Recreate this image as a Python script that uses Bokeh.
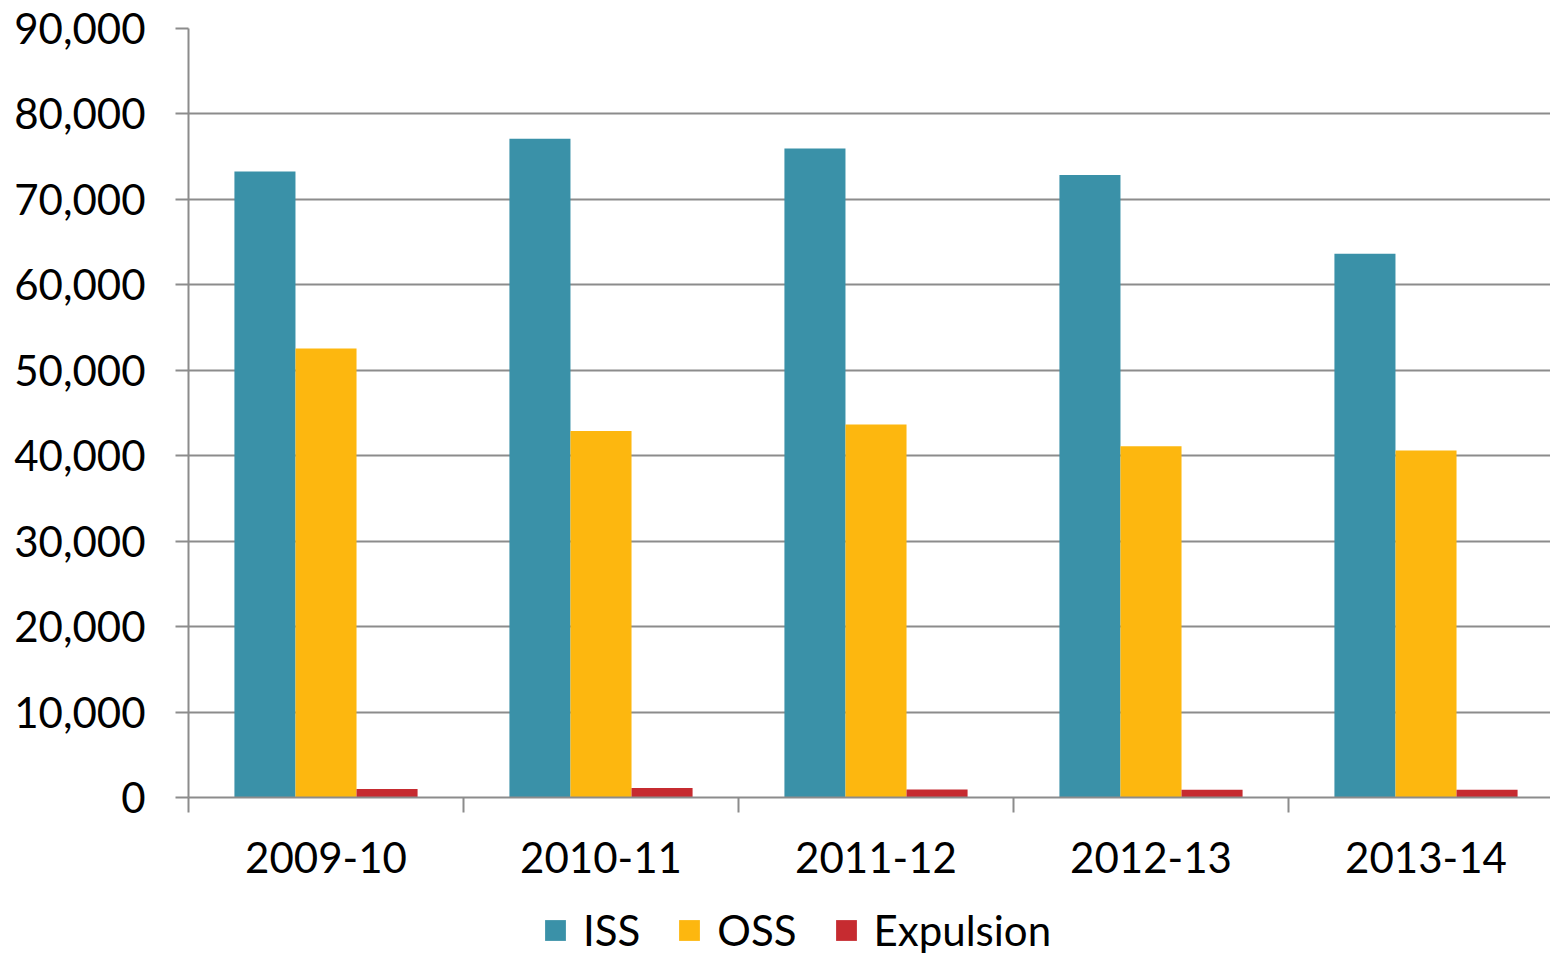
from bokeh.plotting import figure
from bokeh.layouts import column
from bokeh.models import (ColumnDataSource, FixedTicker, Legend, LegendItem,
                          Range1d, NumeralTickFormatter)
from bokeh.embed import file_html
from bokeh.resources import INLINE

years = ["2009-10", "2010-11", "2011-12", "2012-13", "2013-14"]
iss = [73250, 77100, 75950, 72850, 63650]
oss = [52550, 42900, 43650, 41100, 40600]
expulsion = [1000, 1100, 950, 900, 900]

series_names = ["ISS", "OSS", "Expulsion"]
colors = ["#3A91A8", "#FDB70F", "#C62B30"]

FONT = "Lato"
bar_w = 0.222
offsets = [-bar_w, 0.0, bar_w]

centers = [i + 0.5 for i in range(len(years))]

p = figure(width=1550, height=882, output_backend="svg", toolbar_location=None,
           x_range=Range1d(0, 1362 / 275), y_range=Range1d(0, 90000),
           min_border_left=188, min_border_right=0, min_border_top=28,
           min_border_bottom=85)
p.outline_line_color = None
p.background_fill_color = "white"
p.border_fill_color = "white"

for vals, off, col in zip([iss, oss, expulsion], offsets, colors):
    src = ColumnDataSource(dict(x=[c + off for c in centers], top=vals))
    p.vbar(x="x", top="top", width=bar_w, source=src, fill_color=col,
           line_color=None)

# x axis
p.xaxis.ticker = FixedTicker(ticks=centers, minor_ticks=list(range(len(years) + 1)))
p.xaxis.major_label_overrides = {c: y for c, y in zip(centers, years)}
p.xaxis.major_tick_out = 0
p.xaxis.major_tick_in = 0
p.xaxis.minor_tick_out = 15
p.xaxis.minor_tick_in = 0
p.xaxis.minor_tick_line_color = "#8C8C8C"
p.xaxis.minor_tick_line_width = 2
p.xaxis.axis_line_color = "#8C8C8C"
p.xaxis.axis_line_width = 2
p.xaxis.major_label_text_font = FONT
p.xaxis.major_label_text_font_size = "42px"
p.xaxis.major_label_text_color = "black"
p.xaxis.major_label_standoff = 29

# y axis
p.yaxis.ticker = FixedTicker(ticks=list(range(0, 90001, 10000)))
p.yaxis.formatter = NumeralTickFormatter(format="0,0")
p.yaxis.major_tick_out = 13
p.yaxis.major_tick_in = 0
p.yaxis.minor_tick_line_color = None
p.yaxis.major_tick_line_color = "#8C8C8C"
p.yaxis.major_tick_line_width = 2
p.yaxis.axis_line_color = "#8C8C8C"
p.yaxis.axis_line_width = 2
p.yaxis.major_label_text_font = FONT
p.yaxis.major_label_text_font_size = "42px"
p.yaxis.major_label_text_color = "black"
p.yaxis.major_label_standoff = 30

p.xgrid.grid_line_color = None
p.ygrid.ticker = FixedTicker(ticks=list(range(0, 90001, 10000)))
p.ygrid.grid_line_color = "#8C8C8C"
p.ygrid.grid_line_width = 2

# legend strip (separate figure so the legend is not clipped)
lg = figure(width=1550, height=73, output_backend="svg", toolbar_location=None,
            x_axis_location=None, y_axis_location=None,
            x_range=Range1d(0, 1), y_range=Range1d(0, 1),
            min_border_left=0, min_border_right=0, min_border_top=0,
            min_border_bottom=0)
lg.outline_line_color = None
lg.xgrid.grid_line_color = None
lg.ygrid.grid_line_color = None
legend_renderers = []
for col in colors:
    src = ColumnDataSource(dict(x=[float("nan")], top=[float("nan")]))
    r = lg.vbar(x="x", top="top", width=0.1, source=src, fill_color=col,
                line_color=None)
    legend_renderers.append(r)

legend = Legend(items=[LegendItem(label=n, renderers=[r]) for n, r in zip(series_names, legend_renderers)],
                orientation="horizontal", location=(354, 0),
                label_text_font=FONT, label_text_font_size="42px",
                label_text_color="black",
                glyph_width=26, glyph_height=26, spacing=36, label_standoff=15,
                padding=0, margin=0, border_line_color=None,
                background_fill_alpha=0)
lg.add_layout(legend, "center")

layout = column(p, lg, spacing=0)
open("out.html", "w").write(file_html(layout, INLINE))
